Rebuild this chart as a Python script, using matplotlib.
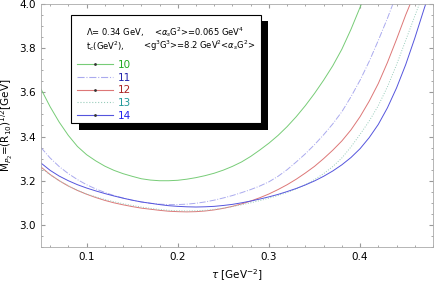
import matplotlib
matplotlib.use('Agg')
import matplotlib.pyplot as plt
from matplotlib.lines import Line2D
from matplotlib.patches import Rectangle
from matplotlib.ticker import MultipleLocator

# curves: tau [GeV^-2] vs M [GeV], one per t_c
tau10 = [0.05, 0.06, 0.07, 0.08, 0.09, 0.10, 0.11, 0.12, 0.13, 0.14, 0.15, 0.16, 0.17, 0.18, 0.19,
         0.20, 0.21, 0.22, 0.23, 0.24, 0.25, 0.26, 0.27, 0.28, 0.29, 0.30, 0.31, 0.32, 0.33, 0.34,
         0.35, 0.36, 0.37, 0.38, 0.39, 0.40, 0.4015]
m10 = [3.615, 3.535, 3.465, 3.405, 3.355, 3.318, 3.29, 3.266, 3.247, 3.232, 3.22, 3.209, 3.203, 3.200, 3.200,
       3.202, 3.207, 3.214, 3.223, 3.234, 3.248, 3.265, 3.285, 3.31, 3.339, 3.37, 3.405, 3.445, 3.49, 3.54,
       3.595, 3.655, 3.72, 3.795, 3.885, 3.985, 4.0]

tau11 = [0.05, 0.06, 0.07, 0.08, 0.09, 0.10, 0.11, 0.12, 0.13, 0.14, 0.15, 0.16, 0.17, 0.18, 0.19,
         0.20, 0.21, 0.22, 0.23, 0.24, 0.25, 0.26, 0.27, 0.28, 0.29, 0.30, 0.31, 0.32, 0.33, 0.34,
         0.35, 0.36, 0.37, 0.38, 0.39, 0.40, 0.41, 0.42, 0.43, 0.436]
m11 = [3.35, 3.303, 3.264, 3.232, 3.205, 3.182, 3.163, 3.147, 3.133, 3.122, 3.112, 3.104, 3.098, 3.094, 3.092,
       3.092, 3.094, 3.098, 3.104, 3.112, 3.122, 3.133, 3.146, 3.16, 3.176, 3.195, 3.22, 3.25, 3.285, 3.322,
       3.363, 3.408, 3.457, 3.512, 3.58, 3.655, 3.74, 3.835, 3.935, 4.0]

tau12 = [0.05, 0.06, 0.07, 0.08, 0.09, 0.10, 0.11, 0.12, 0.13, 0.14, 0.15, 0.16, 0.17, 0.18, 0.19,
         0.20, 0.21, 0.22, 0.23, 0.24, 0.25, 0.26, 0.27, 0.28, 0.29, 0.30, 0.31, 0.32, 0.33, 0.34,
         0.35, 0.36, 0.37, 0.38, 0.39, 0.40, 0.41, 0.42, 0.43, 0.44, 0.45, 0.455]
m12 = [3.262, 3.228, 3.20, 3.176, 3.156, 3.139, 3.124, 3.111, 3.10, 3.091, 3.083, 3.076, 3.071, 3.066, 3.062,
       3.06, 3.059, 3.06, 3.063, 3.068, 3.075, 3.084, 3.095, 3.108, 3.123, 3.14, 3.16, 3.182, 3.207, 3.235,
       3.265, 3.30, 3.338, 3.38, 3.43, 3.49, 3.56, 3.64, 3.735, 3.84, 3.95, 4.0]

tau13 = [0.05, 0.06, 0.07, 0.08, 0.09, 0.10, 0.11, 0.12, 0.13, 0.14, 0.15, 0.16, 0.17, 0.18, 0.19,
         0.20, 0.21, 0.22, 0.23, 0.24, 0.25, 0.26, 0.27, 0.28, 0.29, 0.30, 0.31, 0.32, 0.33, 0.34,
         0.35, 0.36, 0.37, 0.38, 0.39, 0.40, 0.41, 0.42, 0.43, 0.44, 0.45, 0.46, 0.465]
m13 = [3.258, 3.227, 3.20, 3.177, 3.157, 3.14, 3.127, 3.115, 3.105, 3.096, 3.088, 3.081, 3.075, 3.07, 3.066,
       3.064, 3.063, 3.064, 3.066, 3.07, 3.076, 3.083, 3.091, 3.10, 3.11, 3.121, 3.133, 3.147, 3.163, 3.182,
       3.205, 3.232, 3.264, 3.303, 3.353, 3.41, 3.47, 3.54, 3.625, 3.725, 3.835, 3.945, 4.0]

tau14 = [0.05, 0.06, 0.07, 0.08, 0.09, 0.10, 0.11, 0.12, 0.13, 0.14, 0.15, 0.16, 0.17, 0.18, 0.19,
         0.20, 0.21, 0.22, 0.23, 0.24, 0.25, 0.26, 0.27, 0.28, 0.29, 0.30, 0.31, 0.32, 0.33, 0.34,
         0.35, 0.36, 0.37, 0.38, 0.39, 0.40, 0.41, 0.42, 0.43, 0.44, 0.45, 0.46, 0.47, 0.472]
m14 = [3.28, 3.247, 3.221, 3.20, 3.182, 3.167, 3.154, 3.142, 3.131, 3.121, 3.112, 3.104, 3.098, 3.092, 3.087,
       3.084, 3.082, 3.081, 3.082, 3.084, 3.088, 3.093, 3.10, 3.108, 3.117, 3.127, 3.138, 3.151, 3.165, 3.181,
       3.199, 3.22, 3.244, 3.272, 3.305, 3.345, 3.395, 3.455, 3.53, 3.62, 3.725, 3.845, 3.975, 4.0]

labels = ['10', '11', '12', '13', '14']
line_colors = ['#77cc77', '#aaaaee', '#dd7777', '#99ccbb', '#5555dd']
text_colors = ['#22aa22', '#2222aa', '#aa2222', '#229999', '#2222ee']
styles = ['-', '-.', '-', ':', '-']
markers = ['.', '', '.', '', '.']

W, H = 436, 282
fig = plt.figure(figsize=(W / 100, H / 100), dpi=100)
ax = fig.add_axes([41 / W, 1 - 247 / H, 392 / W, 243 / H])

series = [(tau10, m10), (tau11, m11), (tau12, m12), (tau13, m13), (tau14, m14)]
for (t, m), c, ls in zip(series, line_colors, styles):
    ax.plot(t, m, color=c, ls=ls, lw=0.7)

ax.set_xlim(0.05, 0.48)
ax.set_ylim(2.9, 4.0)
ax.xaxis.set_major_locator(MultipleLocator(0.1))
ax.xaxis.set_minor_locator(MultipleLocator(0.02))
ax.yaxis.set_major_locator(MultipleLocator(0.2))
ax.yaxis.set_minor_locator(MultipleLocator(0.05))
ax.tick_params(which='both', direction='in', top=True, right=True, color='#999999', labelsize=7.5)
ax.tick_params(which='major', length=3)
ax.tick_params(which='minor', length=1.5)
for s in ax.spines.values():
    s.set_color('#aaaaaa')
    s.set_linewidth(0.6)

ax.set_xlabel(r'$\tau$ [GeV$^{-2}$]', fontsize=7.5, labelpad=4)
ax.set_ylabel(r'M$_{P_2}$=(R$_{10}$)$^{1/2}$[GeV]', fontsize=7.5, labelpad=3)

# legend box with hard black shadow, placed in figure pixels
def px(x, y):
    return x / W, 1 - y / H

ax.add_patch(Rectangle(px(79, 130), 189 / W, 109 / H, transform=fig.transFigure, clip_on=False,
                       facecolor='black', edgecolor='none', zorder=5))
ax.add_patch(Rectangle(px(71, 123), 190 / W, 108 / H, transform=fig.transFigure, clip_on=False,
                       facecolor='white', edgecolor='black', lw=0.8, zorder=6))

ax.text(*px(86, 32), r'$\Lambda$= 0.34 GeV,', fontsize=6, va='center', transform=fig.transFigure, zorder=7)
ax.text(*px(154, 32), r'<$\alpha_s$G$^2$>=0.065 GeV$^4$', fontsize=6, va='center', transform=fig.transFigure, zorder=7)
ax.text(*px(86, 46), r't$_c$(GeV$^2$),', fontsize=6, va='center', transform=fig.transFigure, zorder=7)
ax.text(*px(143, 46), r'<g$^3$G$^3$>=8.2 GeV$^2$<$\alpha_s$G$^2$>', fontsize=6, va='center',
        transform=fig.transFigure, zorder=7)

handles = [Line2D([], [], color=c, ls=ls, lw=0.8, marker=mk, markersize=2, markeredgecolor='#333333')
           for c, ls, mk in zip(line_colors, styles, markers)]
leg = ax.legend(handles, labels, loc='upper left', bbox_to_anchor=px(77, 60),
                bbox_transform=fig.transFigure, frameon=False, fontsize=7.5,
                handlelength=3.5, handletextpad=0.45, labelspacing=0.26, numpoints=1,
                borderpad=0, borderaxespad=0)
leg.set_zorder(8)
for txt, c in zip(leg.get_texts(), text_colors):
    txt.set_color(c)

fig.savefig('out.png', dpi=100)
